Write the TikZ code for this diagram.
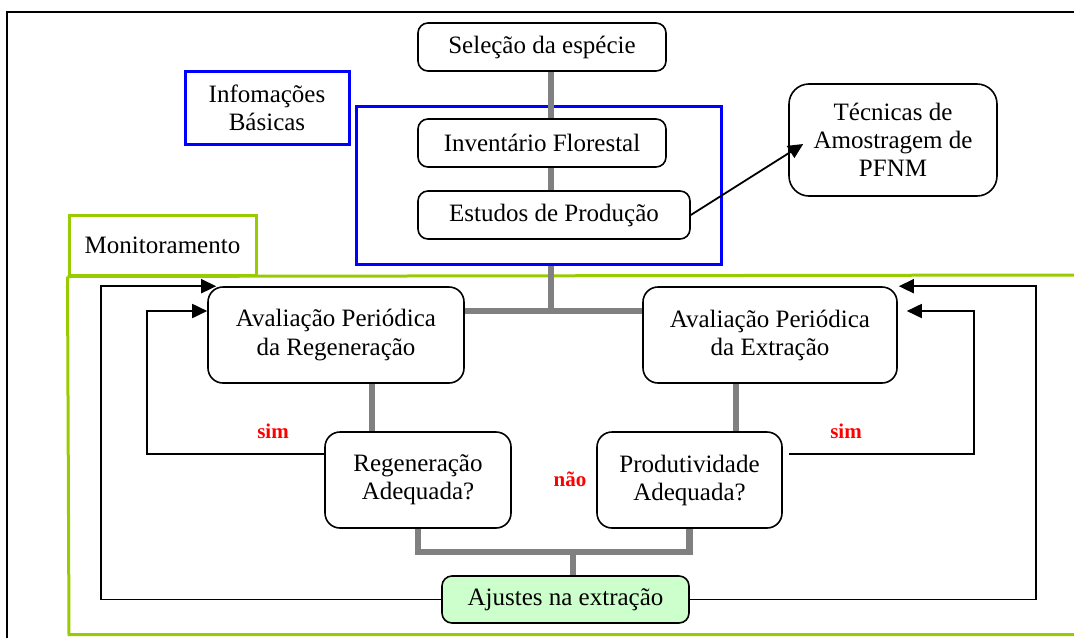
\documentclass[tikz,border=0pt]{standalone}
\usepackage{fontspec}
\setmainfont{Liberation Serif}
\usetikzlibrary{calc,arrows.meta}
\definecolor{boxblue}{RGB}{0,0,255}
\definecolor{monigreen}{RGB}{153,204,0}
\definecolor{conngray}{RGB}{128,128,128}
\definecolor{ajgreen}{RGB}{204,255,204}
\definecolor{lblred}{RGB}{255,0,0}
\begin{document}
\begin{tikzpicture}[x=0.5pt,y=-0.5pt,
  box/.style={draw=black,line width=0.8pt,rounded corners=5pt,align=center,inner sep=0pt,
    font=\fontsize{12.5}{14}\selectfont},
  bigbox/.style={box,rounded corners=7.5pt},
  bluerect/.style={draw=boxblue,line width=1.5pt,inner sep=0pt,align=center,
    font=\fontsize{12.5}{14}\selectfont},
  greenrect/.style={draw=monigreen,line width=1.5pt,inner sep=0pt,
    font=\fontsize{12.5}{14}\selectfont},
  gline/.style={draw=conngray,line width=3.2pt,line join=miter},
  fb/.style={draw=black,line width=0.9pt,-{Triangle[length=7.5pt,width=7pt]}},
  lbl/.style={text=lblred,font=\fontsize{10.5}{12}\selectfont\bfseries,inner sep=0pt}
]
\useasboundingbox (0,0) rectangle (1074,637);
% outer frame
\draw[line width=1pt] (7,640) -- (7,12) -- (1076,12);
% monitoramento green frame
\node[greenrect,minimum width=93.5pt,minimum height=30pt] (mon) at (162.5,245) {Monitoramento};
\draw[monigreen,line width=1.5pt] (mon.south west) -- (1076,275);
\draw[monigreen,line width=1.5pt] (mon.south west) -- (69,634.5) -- (1076,634.5);
% blue boxes
\node[bluerect,minimum width=82pt,minimum height=36.5pt] (info) at (267,107.5) {Infomações\\Básicas};
\node[bluerect,minimum width=182.5pt,minimum height=79pt] (blue) at (538.5,185) {};
% top boxes
\node[box,minimum width=124pt,minimum height=24pt] (sel) at (542,47) {Seleção da espécie};
\node[box,minimum width=124pt,minimum height=24pt] (inv) at (542,143) {Inventário Florestal};
\node[box,minimum width=136pt,minimum height=24pt] (est) at (554,215) {Estudos de Produção};
\node[box,rounded corners=10pt,minimum width=104pt,minimum height=56pt] (tec) at (893,140) {Técnicas de\\Amostragem de\\PFNM};
% monitoring boxes
\node[bigbox,minimum width=128pt,minimum height=48pt] (areg) at (336,335) {Avaliação Periódica\\da Regeneração};
\node[bigbox,minimum width=127pt,minimum height=48pt] (aext) at (770,335) {Avaliação Periódica\\da Extração};
\node[bigbox,minimum width=93pt,minimum height=48pt] (rega) at (418,480) {Regeneração\\Adequada?};
\node[bigbox,minimum width=92.5pt,minimum height=48pt] (proa) at (689.5,480) {Produtividade\\Adequada?};
\node[box,fill=ajgreen,minimum width=123.5pt,minimum height=23.5pt] (aju) at (565.5,599.5) {Ajustes na extração};
% labels
\node[lbl] (sim1) at (273,431) {sim};
\node[lbl] (sim2) at (846,431) {sim};
\node[lbl] (nao) at (570,479) {não};
% helper coordinates
\coordinate (gx) at (551,0);
\coordinate (j1) at (551,311);
\coordinate (jb) at (573,552);
\coordinate (ys) at (0,454);
\coordinate (lo) at (101,0);
\coordinate (li) at (147,0);
\coordinate (ri) at (974,0);
\coordinate (ro) at (1036,0);
% gray connectors
\draw[gline] (sel.south -| gx) -- (inv.north -| gx);
\draw[gline] (inv.south -| gx) -- (est.north -| gx);
\draw[gline] (blue.south -| gx) -- (j1);
\draw[gline] (areg.east |- j1) -- (aext.west |- j1);
\draw[gline] ($(areg.south)+(36,0)$) -- ($(rega.north)+(-46,0)$);
\draw[gline] ($(aext.south)+(-34,0)$) -- ($(proa.north)+(46.5,0)$);
\draw[gline] (rega.south) |- (jb) -| (proa.south);
\draw[gline] (jb) -- (aju.north -| jb);
% black arrows
\draw[fb] (est.east) -- ($(tec.west)+(15,4)$);
\draw[fb] (aju.west) -| (lo |- areg.north) -- ($(areg.north west)+(9,0)$);
\draw[fb] (rega.west |- ys) -| (li |- j1) -- (areg.west |- j1);
\draw[fb] ($(proa.east |- ys)+(6,0)$) -| (ri |- j1) -- ($(aext.east |- j1)+(9,0)$);
\draw[fb] (aju.east) -| (ro |- aext.north) -- ($(aext.north east)+(1,0)$);
\end{tikzpicture}
\end{document}
